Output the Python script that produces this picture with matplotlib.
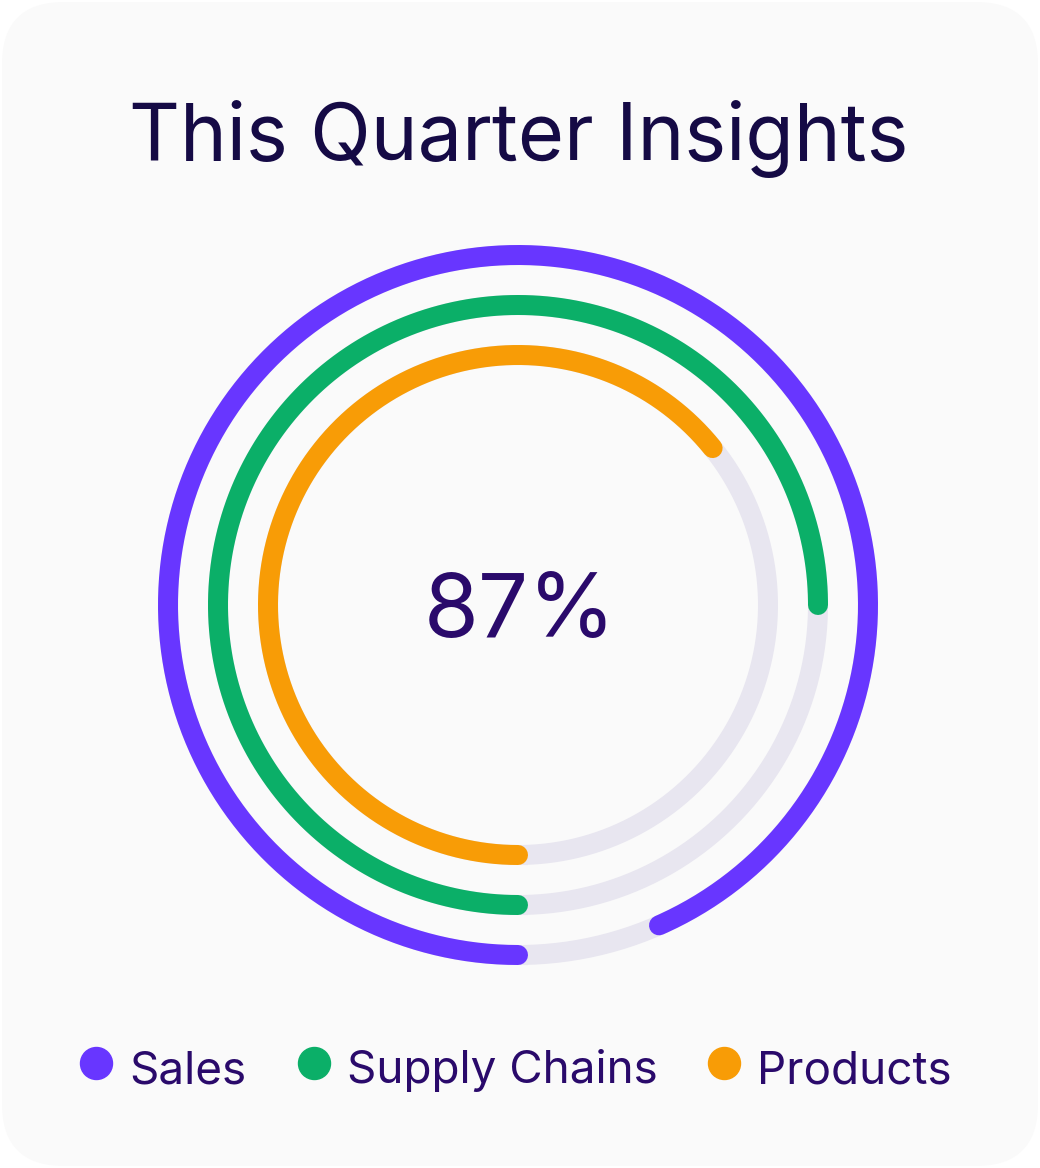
import numpy as np
import matplotlib
matplotlib.use("Agg")
import matplotlib.pyplot as plt
from matplotlib.patches import FancyBboxPatch

plt.rcParams['font.family'] = ['Inter', 'DejaVu Sans']

# data
series = ["Sales", "Supply Chains", "Products"]
values = [93.4, 75.0, 64.2]          # percent of full circle
colors = ["#6836FF", "#0BAF68", "#F89C06"]
radii = [350, 300, 250]              # ring radius in pixels
total_label = "87%"
title = "This Quarter Insights"

W, H = 1040, 1168
fig = plt.figure(figsize=(W / 100, H / 100), dpi=100)
fig.patch.set_facecolor("white")

# card background
bg = fig.add_axes([0, 0, 1, 1])
bg.set_xlim(0, W)
bg.set_ylim(H, 0)
bg.axis("off")
bg.add_patch(FancyBboxPatch((2, 2), W - 4, H - 4,
                            boxstyle="round,pad=0,rounding_size=62",
                            fc="#FAFAFA", ec="none"))

bg.text(519, 160, title, ha="center", va="baseline", fontsize=57,
        color="#150A45")
bg.text(520, 637, total_label, ha="center", va="baseline", fontsize=64,
        color="#2A0A6B")

# rings
cx, cy, R = 518, 605, 370
ax = fig.add_axes([(cx - R) / W, (H - cy - R) / H, 2 * R / W, 2 * R / H],
                  projection="polar")
ax.set_theta_zero_location("S")
ax.set_theta_direction(-1)
ax.set_ylim(0, R)
ax.axis("off")
ax.patch.set_alpha(0)

lw = 20 * 72 / 100
full = np.linspace(0, 2 * np.pi, 400)
for r, v, c in zip(radii, values, colors):
    ax.plot(full, np.full_like(full, r), color="#E8E6F0", lw=lw)
    th = np.linspace(0, 2 * np.pi * v / 100, 400)
    ax.plot(th, np.full_like(th, r), color=c, lw=lw, solid_capstyle="round")

# legend
lx = [96, 314, 724]
for x, name, c in zip(lx, series, colors):
    bg.scatter([x], [1063], s=(32 * 0.72) ** 2, color=c, zorder=3)
    bg.text(x + 33, 1083, name, ha="left", va="baseline", fontsize=33,
            color="#2A0A6B")

fig.savefig("out.png", dpi=100, facecolor=fig.get_facecolor())
